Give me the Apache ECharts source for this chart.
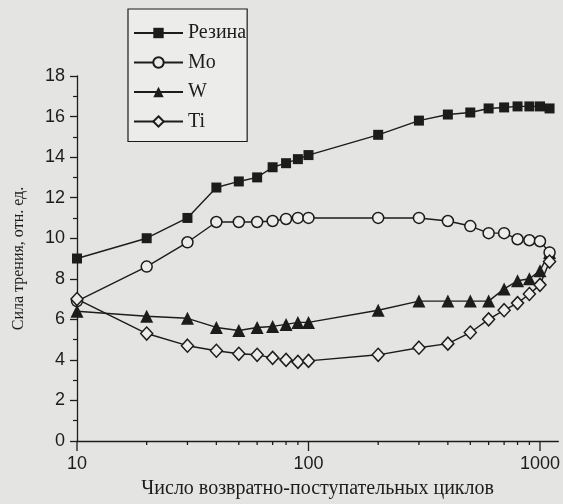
<!DOCTYPE html>
<html>
<head>
<meta charset="utf-8">
<script src="https://cdn.jsdelivr.net/npm/echarts@6/dist/echarts.min.js"></script>
<style>
  html, body { margin: 0; padding: 0; background: #e4e4e2; }
  #chart { width: 563px; height: 504px; }
</style>
</head>
<body>
<div id="chart"></div>
<script>
// number of cycles (x, log scale)
var cycles = [10, 20, 30, 40, 50, 60, 70, 80, 90, 100, 200, 300, 400, 500, 600, 700, 800, 900, 1000, 1100];

// friction force, rel. units
var rezina = [9.0, 10.0, 11.0, 12.5, 12.8, 13.0, 13.5, 13.7, 13.9, 14.1, 15.1, 15.8, 16.1, 16.2, 16.4, 16.45, 16.5, 16.5, 16.5, 16.4];
var mo     = [6.9, 8.6, 9.8, 10.8, 10.8, 10.8, 10.85, 10.95, 11.0, 11.0, 11.0, 11.0, 10.85, 10.6, 10.25, 10.25, 9.95, 9.9, 9.85, 9.3];
var w      = [6.4, 6.15, 6.05, 5.6, 5.45, 5.6, 5.65, 5.75, 5.85, 5.85, 6.45, 6.9, 6.9, 6.9, 6.9, 7.5, 7.9, 8.0, 8.4, 9.3];
var ti     = [7.0, 5.3, 4.7, 4.45, 4.3, 4.25, 4.1, 4.0, 3.9, 3.95, 4.25, 4.6, 4.8, 5.35, 6.0, 6.45, 6.8, 7.25, 7.7, 8.85];

var seriesNames = ['Резина', 'Mo', 'W', 'Ti'];
var majorTicks = [10, 100, 1000];
var minorTicks = [20, 30, 40, 50, 60, 70, 80, 90, 200, 300, 400, 500, 600, 700, 800, 900];

var ink = '#1c1c1c';
var paper = '#ececea';

function pairs(ys) {
    return cycles.map(function (x, i) { return [x, ys[i]]; });
}

function lineSeries(name, ys, symbol, size, hollow) {
    return {
        name: name,
        type: 'line',
        data: pairs(ys),
        symbol: symbol,
        symbolSize: size,
        showAllSymbol: true,
        lineStyle: { color: ink, width: 1.4 },
        itemStyle: hollow
            ? { color: paper, borderColor: ink, borderWidth: 1.5 }
            : { color: ink, borderColor: ink, borderWidth: 0 },
        z: hollow ? 3 : 2
    };
}

function tickSeries(values, len) {
    return {
        type: 'custom',
        silent: true,
        clip: false,
        data: values.map(function (v) { return [v, 0]; }),
        renderItem: function (params, api) {
            var p = api.coord([api.value(0), 0]);
            return {
                type: 'line',
                shape: { x1: p[0], y1: p[1], x2: p[0], y2: p[1] + len },
                style: { stroke: ink, lineWidth: 1.3 }
            };
        }
    };
}

var myChart = echarts.init(document.getElementById('chart'));
myChart.setOption({
    backgroundColor: '#e4e4e2',
    animation: false,
    grid: { left: 77, right: 4, top: 76, bottom: 62 },
    legend: {
        data: seriesNames,
        orient: 'vertical',
        left: 128,
        top: 9,
        itemWidth: 49,
        itemHeight: 13,
        itemGap: 9.5,
        padding: [14, 1, 10, 5],
        borderColor: ink,
        borderWidth: 1.2,
        backgroundColor: paper,
        textStyle: { fontFamily: 'Liberation Serif', fontSize: 20, color: ink }
    },
    xAxis: {
        type: 'log',
        logBase: 10,
        min: 10,
        max: 1200,
        name: 'Число возвратно-поступательных циклов',
        nameLocation: 'middle',
        nameGap: 38,
        nameTextStyle: { fontFamily: 'Liberation Serif', fontSize: 20, color: ink },
        axisLine: { lineStyle: { color: ink, width: 1.3 } },
        axisTick: { show: false },
        splitLine: { show: false },
        axisLabel: {
            margin: 14,
            fontFamily: 'Liberation Sans',
            fontSize: 18,
            color: ink,
            formatter: function (v) {
                return majorTicks.indexOf(Math.round(v)) > -1 ? String(Math.round(v)) : '';
            }
        }
    },
    yAxis: {
        type: 'value',
        min: 0,
        max: 18,
        interval: 2,
        name: 'Сила трения, отн. ед.',
        nameLocation: 'middle',
        nameGap: 50,
        nameTextStyle: { fontFamily: 'Liberation Serif', fontSize: 16, color: ink },
        axisLine: { show: true, lineStyle: { color: ink, width: 1.3 } },
        axisTick: { show: true, length: 7, lineStyle: { color: ink, width: 1.3 } },
        minorTick: { show: true, splitNumber: 2, length: 4, lineStyle: { color: ink, width: 1.2 } },
        splitLine: { show: false },
        axisLabel: { margin: 12, fontFamily: 'Liberation Sans', fontSize: 18, color: ink }
    },
    series: [
        lineSeries('Резина', rezina, 'rect', 10, false),
        lineSeries('Mo', mo, 'circle', 11, true),
        lineSeries('W', w, 'triangle', 13, false),
        lineSeries('Ti', ti, 'diamond', [12, 13], true),
        tickSeries(majorTicks, 10),
        tickSeries(minorTicks, 4)
    ]
});
</script>
</body>
</html>
